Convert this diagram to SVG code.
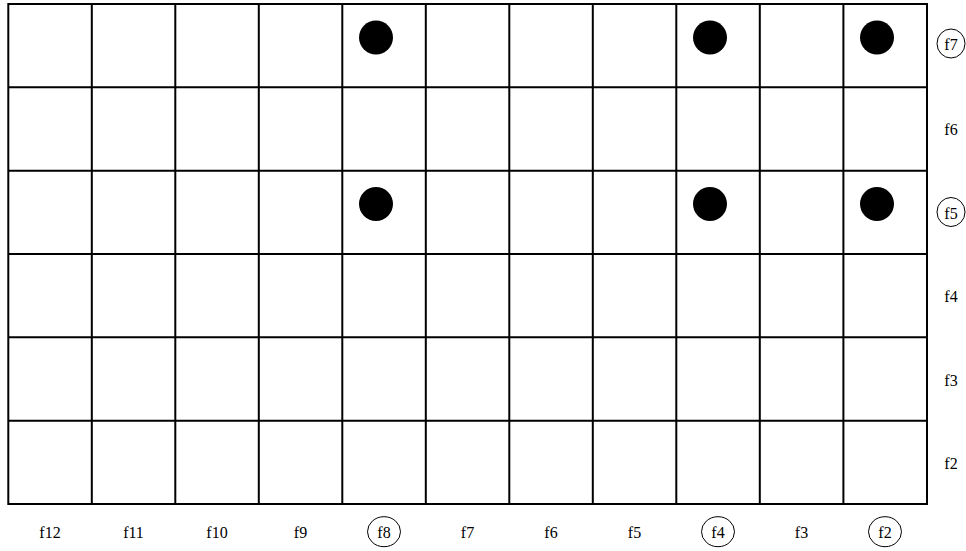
<svg xmlns="http://www.w3.org/2000/svg" width="966" height="551" viewBox="0 0 966 551">
<style>
.grid{stroke:#000;stroke-width:2;fill:none}
.dot{fill:#000}
.lbl{font-family:"Liberation Serif","Times New Roman",serif;font-size:16px;fill:#000;text-anchor:middle}
.ring{fill:none;stroke:#000;stroke-width:1}
</style>
<rect width="966" height="551" fill="#fff"/>
<g id="grid" class="grid">
<rect x="8.3" y="4" width="918.7" height="500"/>
<path d="M91.8 4V504M175.3 4V504M258.8 4V504M342.3 4V504M425.8 4V504M509.3 4V504M592.8 4V504M676.3 4V504M759.8 4V504M843.4 4V504"/>
<path d="M8.3 87.3H927M8.3 170.7H927M8.3 254H927M8.3 337.3H927M8.3 420.7H927"/>
</g>
<g id="dots">
<circle class="dot" cx="376" cy="37.5" r="17"/>
<circle class="dot" cx="710" cy="37.5" r="17"/>
<circle class="dot" cx="877" cy="37.5" r="17"/>
<circle class="dot" cx="376" cy="204" r="17"/>
<circle class="dot" cx="710" cy="204" r="17"/>
<circle class="dot" cx="877" cy="204" r="17"/>
</g>
<g id="row-labels">
<ellipse class="ring" cx="951" cy="43.5" rx="14" ry="14.5"/>
<text class="lbl" x="951" y="50">f7</text>
<text class="lbl" x="951" y="135">f6</text>
<ellipse class="ring" cx="951" cy="212" rx="14" ry="14.5"/>
<text class="lbl" x="951" y="218.5">f5</text>
<text class="lbl" x="951" y="302">f4</text>
<text class="lbl" x="951" y="385.5">f3</text>
<text class="lbl" x="951" y="469">f2</text>
</g>
<g id="col-labels">
<text class="lbl" x="50" y="538">f12</text>
<text class="lbl" x="133.5" y="538">f11</text>
<text class="lbl" x="217" y="538">f10</text>
<text class="lbl" x="300.5" y="538">f9</text>
<ellipse class="ring" cx="384" cy="531.7" rx="16.5" ry="15"/>
<text class="lbl" x="384" y="538">f8</text>
<text class="lbl" x="467.5" y="538">f7</text>
<text class="lbl" x="551" y="538">f6</text>
<text class="lbl" x="634.5" y="538">f5</text>
<ellipse class="ring" cx="718" cy="531.7" rx="16.5" ry="15"/>
<text class="lbl" x="718" y="538">f4</text>
<text class="lbl" x="801.5" y="538">f3</text>
<ellipse class="ring" cx="885" cy="531.7" rx="16.5" ry="15"/>
<text class="lbl" x="885" y="538">f2</text>
</g>
</svg>
